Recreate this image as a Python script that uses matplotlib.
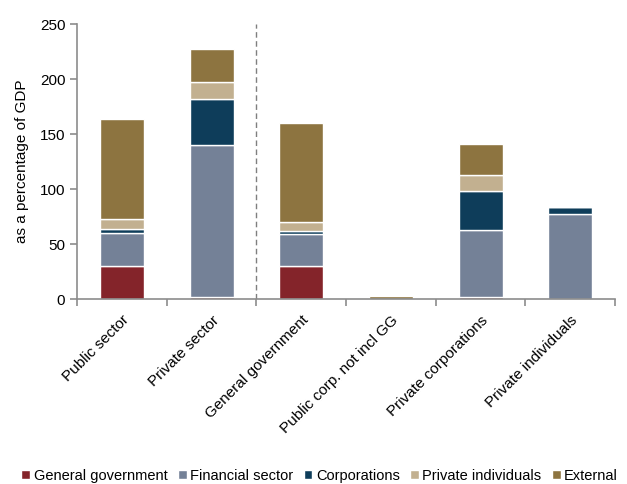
import matplotlib
matplotlib.use("Agg")
import matplotlib.pyplot as plt
import numpy as np

plt.rcParams['font.family'] = ['Liberation Sans', 'DejaVu Sans']

categories = ["Public sector", "Private sector", "General government",
              "Public corp. not incl GG", "Private corporations", "Private individuals"]
series_names = ["General government", "Financial sector", "Corporations",
                "Private individuals", "External"]
general_government = [30, 1.5, 30, 0, 1.5, 0]
financial_sector = [30.5, 138.5, 29, 0, 61, 77]
corporations = [3.5, 42, 3, 0, 35.5, 6.5]
private_individuals = [8.5, 15, 8.5, 0.5, 14.5, 0]
external = [91, 30, 89.5, 2.5, 29, 0]
colors = ["#84242a", "#748197", "#0e3d5a", "#c2b090", "#8d7440"]

data = [general_government, financial_sector, corporations, private_individuals, external]

fig = plt.figure(figsize=(6.27, 4.84), dpi=100)
ax = fig.add_axes([0.123, 0.382, 0.858, 0.568])

x = np.arange(len(categories))
bottom = np.zeros(len(categories))
for name, vals, c in zip(series_names, data, colors):
    ax.bar(x, vals, width=0.49, bottom=bottom, color=c, edgecolor="white",
           linewidth=1.0, label=name)
    bottom += np.array(vals)

ax.set_xlim(-0.5, len(categories) - 0.5)
ax.set_ylim(0, 250)
ax.set_yticks([0, 50, 100, 150, 200, 250])
ax.axvline(1.5, color="#7f7f7f", linestyle=(0, (4, 2.5)), linewidth=1.0, ymax=1.0)

for s in ["top", "right"]:
    ax.spines[s].set_visible(False)
for s in ["left", "bottom"]:
    ax.spines[s].set_color("#8c8c8c")
    ax.spines[s].set_linewidth(1.2)

ax.set_xticks(np.arange(len(categories) + 1) - 0.5, minor=False)
ax.set_xticklabels([])
ax.tick_params(axis="x", which="major", length=5, color="#8c8c8c", width=1.2)
ax.set_xticks(x, minor=True)
ax.set_xticklabels(categories, minor=True, rotation=45, ha="right",
                   rotation_mode="anchor", fontsize=11)
ax.tick_params(axis="x", which="minor", length=0, pad=10)
ax.tick_params(axis="y", length=5, color="#8c8c8c", width=1.2, labelsize=11)
ax.set_ylabel("as a percentage of GDP", fontsize=11, labelpad=8)

fig.legend(loc="lower center", bbox_to_anchor=(0.51, -0.025), ncol=5, frameon=False,
           fontsize=10.5, handlelength=0.6, handleheight=0.6, handletextpad=0.25,
           columnspacing=0.7)

fig.savefig("out.png", dpi=100)
